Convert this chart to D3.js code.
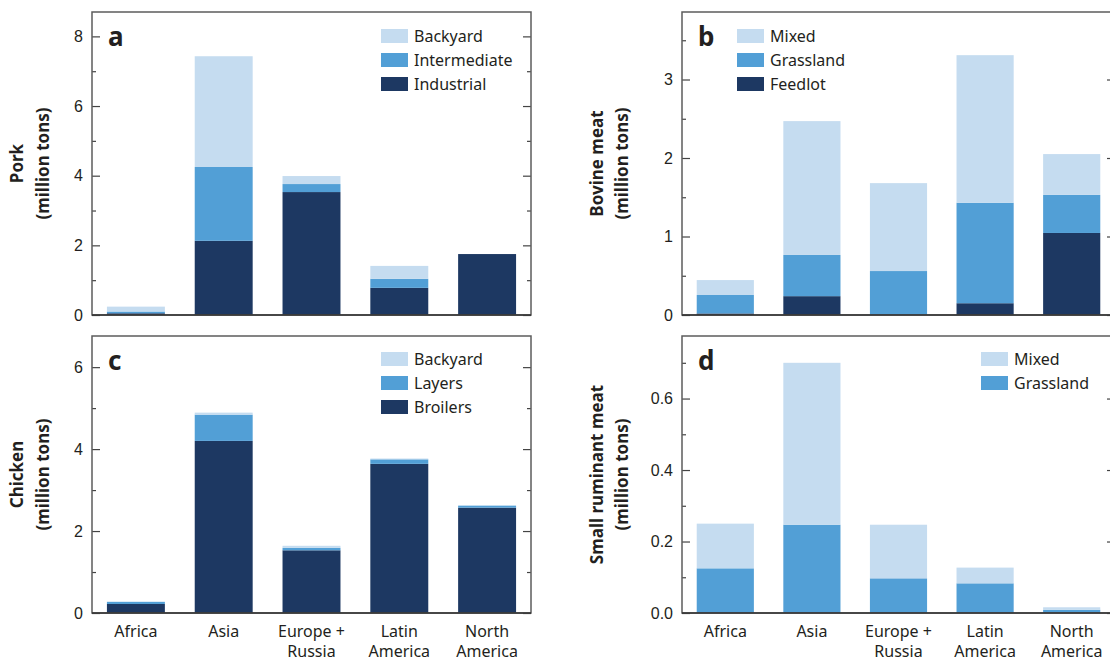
<!DOCTYPE html>
<html>
<head>
<meta charset="utf-8">
<script src="https://cdn.jsdelivr.net/npm/d3@7"></script>
<style>
  body { margin: 0; background: #fff; }
  svg { display: block; font-family: "Noto Sans", "Open Sans", sans-serif; }
</style>
</head>
<body>
<div id="chart"></div>
<script>
// regions on the x axis, split into label lines
const regions = ["Africa", "Asia", "Europe + Russia", "Latin America", "North America"];
const regionLines = [["Africa"], ["Asia"], ["Europe +", "Russia"], ["Latin", "America"], ["North", "America"]];

// a: pork (million tons), stacked bottom to top
const porkIndustrial = [0.05, 2.13, 3.53, 0.78, 1.75];
const porkIntermediate = [0.05, 2.12, 0.23, 0.26, 0];
const porkBackyard = [0.14, 3.18, 0.23, 0.37, 0];

// b: bovine meat
const bovineFeedlot = [0.02, 0.24, 0, 0.15, 1.045];
const bovineGrassland = [0.235, 0.525, 0.56, 1.28, 0.485];
const bovineMixed = [0.19, 1.705, 1.12, 1.88, 0.52];

// c: chicken
const chickenBroilers = [0.22, 4.2, 1.53, 3.64, 2.57];
const chickenLayers = [0.05, 0.64, 0.06, 0.11, 0.05];
const chickenBackyard = [0.01, 0.05, 0.05, 0.02, 0];

// d: small ruminant meat
const ruminantGrassland = [0.125, 0.247, 0.097, 0.083, 0.009];
const ruminantMixed = [0.125, 0.453, 0.15, 0.044, 0.007];

const dark = "#1d3862", mid = "#529fd6", light = "#c5dcf0";
const textColor = "#231f20";

const panels = [
  { letter: "a", x: 92, y: 12, w: 439, h: 303, yMax: 8.7, major: [0, 2, 4, 6, 8], minor: [1, 3, 5, 7], fmt: d3.format("d"),
    title: ["Pork", "(million tons)"], titleX: [17, 43], legendX: 381, legendY: 36,
    series: [["Industrial", porkIndustrial, dark], ["Intermediate", porkIntermediate, mid], ["Backyard", porkBackyard, light]] },
  { letter: "b", x: 682, y: 12, w: 433, h: 303, yMax: 3.86, major: [0, 1, 2, 3], minor: [0.5, 1.5, 2.5, 3.5], fmt: d3.format("d"),
    title: ["Bovine meat", "(million tons)"], titleX: [597, 622], legendX: 737, legendY: 36,
    series: [["Feedlot", bovineFeedlot, dark], ["Grassland", bovineGrassland, mid], ["Mixed", bovineMixed, light]] },
  { letter: "c", x: 92, y: 336, w: 439, h: 277, yMax: 6.76, major: [0, 2, 4, 6], minor: [1, 3, 5], fmt: d3.format("d"),
    title: ["Chicken", "(million tons)"], titleX: [17, 43], legendX: 381, legendY: 359,
    series: [["Broilers", chickenBroilers, dark], ["Layers", chickenLayers, mid], ["Backyard", chickenBackyard, light]], xLabels: true },
  { letter: "d", x: 682, y: 336, w: 433, h: 277, yMax: 0.775, major: [0, 0.2, 0.4, 0.6], minor: [0.1, 0.3, 0.5, 0.7], fmt: d3.format(".1f"),
    title: ["Small ruminant meat", "(million tons)"], titleX: [597, 622], legendX: 981, legendY: 359,
    series: [["Grassland", ruminantGrassland, mid], ["Mixed", ruminantMixed, light]], xLabels: true }
];

const svg = d3.select("#chart").append("svg")
  .attr("width", 1110)
  .attr("height", 659);

panels.forEach(p => {
  const g = svg.append("g").attr("transform", `translate(${p.x},${p.y})`);

  const x = d3.scaleBand().domain(regions).range([0, p.w]).paddingInner(0.34).paddingOuter(0.17);
  const y = d3.scaleLinear().domain([0, p.yMax]).range([p.h, 0]);

  const keys = p.series.map(s => s[0]);
  const rows = regions.map((r, i) => {
    const o = { region: r };
    p.series.forEach(s => { o[s[0]] = s[1][i]; });
    return o;
  });
  const stacked = d3.stack().keys(keys)(rows);
  const colour = d3.scaleOrdinal().domain(keys).range(p.series.map(s => s[2]));

  g.selectAll("g.layer")
    .data(stacked)
    .join("g")
    .attr("class", "layer")
    .attr("fill", d => colour(d.key))
    .selectAll("rect")
    .data(d => d)
    .join("rect")
    .attr("x", d => x(d.data.region))
    .attr("width", x.bandwidth())
    .attr("y", d => y(d[1]))
    .attr("height", d => Math.max(0, y(d[0]) - y(d[1])));

  // inward ticks on both sides
  const styleAxis = sel => {
    sel.select(".domain").remove();
    sel.selectAll("line").attr("stroke", "#444").attr("stroke-width", 1.2);
    sel.selectAll("text").attr("fill", textColor).style("font-size", "16px");
  };
  g.append("g").call(d3.axisLeft(y).tickValues(p.major).tickFormat(p.fmt).tickSizeInner(-8).tickPadding(9)).call(styleAxis);
  g.append("g").call(d3.axisLeft(y).tickValues(p.minor).tickFormat("").tickSizeInner(-4)).call(styleAxis);
  g.append("g").attr("transform", `translate(${p.w},0)`)
    .call(d3.axisRight(y).tickValues(p.major).tickFormat("").tickSizeInner(-8)).call(styleAxis);
  g.append("g").attr("transform", `translate(${p.w},0)`)
    .call(d3.axisRight(y).tickValues(p.minor).tickFormat("").tickSizeInner(-4)).call(styleAxis);

  // frame
  g.append("rect")
    .attr("width", p.w).attr("height", p.h)
    .attr("fill", "none").attr("stroke", "#5c5c5c").attr("stroke-width", 1.5);
  g.append("line").attr("x1", 0).attr("x2", p.w).attr("y1", p.h).attr("y2", p.h)
    .attr("stroke", "#333").attr("stroke-width", 1.5);

  // panel letter
  g.append("text").attr("x", 16).attr("y", 34)
    .attr("fill", textColor).style("font-size", "26px").style("font-weight", "bold")
    .text(p.letter);

  // legend, lightest first
  const legendItems = p.series.slice().reverse();
  const lg = svg.append("g");
  legendItems.forEach((s, i) => {
    const cy = p.legendY + i * 24;
    lg.append("rect").attr("x", p.legendX).attr("y", cy - 7).attr("width", 27).attr("height", 14).attr("fill", s[2]);
    lg.append("text").attr("x", p.legendX + 33).attr("y", cy).attr("dy", "0.35em")
      .attr("fill", textColor).style("font-size", "16px").text(s[0]);
  });

  // y title
  const cy = p.y + p.h / 2;
  p.title.forEach((t, i) => {
    svg.append("text")
      .attr("transform", `translate(${p.titleX[i]},${cy}) rotate(-90)`)
      .attr("text-anchor", "middle").attr("dy", "0.35em")
      .attr("fill", textColor).style("font-size", "17px").style("font-weight", "bold")
      .text(t);
  });

  // x labels
  if (p.xLabels) {
    regions.forEach((r, i) => {
      const t = g.append("text")
        .attr("x", x(r) + x.bandwidth() / 2).attr("y", p.h + 18)
        .attr("text-anchor", "middle")
        .attr("fill", textColor).style("font-size", "16px");
      regionLines[i].forEach((line, j) => {
        t.append("tspan").attr("x", x(r) + x.bandwidth() / 2).attr("dy", j === 0 ? "0.35em" : "1.25em").text(line);
      });
    });
  }
});
</script>
</body>
</html>
